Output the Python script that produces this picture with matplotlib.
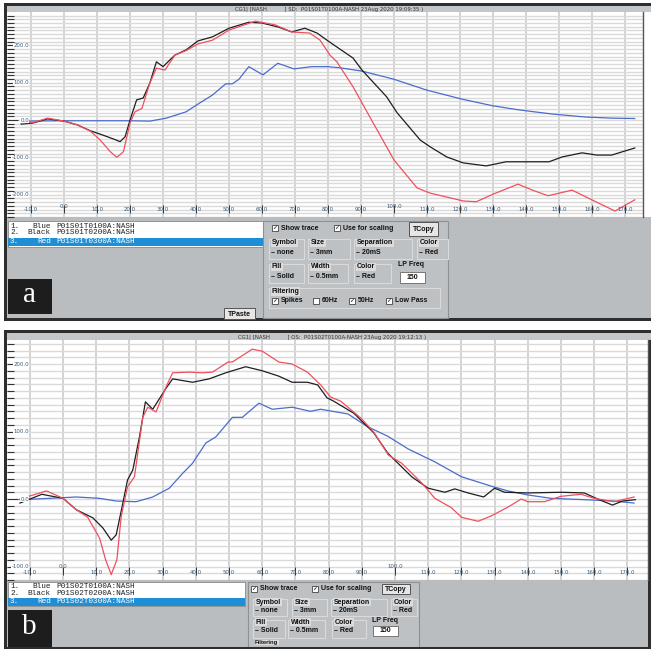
import matplotlib
matplotlib.use('Agg')
import matplotlib.pyplot as plt
from matplotlib.patches import Rectangle
from matplotlib import font_manager

# ---- trace data (x in ms, y in signal units) ----
a_blue_x = [-13, 0, 10, 20, 26, 31, 37, 41, 45, 49, 51, 53, 56, 60.3, 64.8, 69.7, 75, 80, 83.6, 90.3, 99.7, 110, 120.6, 130, 138, 148, 158, 166, 173]
a_blue_y = [-3, -2, -2, -2, -3, 5, 22, 45, 67, 97, 97, 109, 143, 121, 152, 137, 143, 143, 140, 131, 110, 80, 56, 38, 27, 16, 8, 5, 4]

a_black_x = [-13, -9.4, -5, 0, 4, 8, 11, 15, 17, 18.5, 20, 22, 24, 26, 28, 30, 33.6, 37, 40.6, 45, 50, 56, 60, 65, 69, 73, 76.7, 80, 87.6, 90.3, 97.8, 101, 108, 111, 116, 121, 128, 134, 140, 147, 151, 157, 161.5, 166, 173]
a_black_y = [-11, -8, 3, -3, -13, -29, -38, -51, -58, -45, 0, 54, 59, 99, 156, 143, 174, 188, 212, 223, 246, 262, 260, 249, 236, 246, 233, 212, 166, 134, 62, 19, -54, -72, -99, -115, -123, -112, -112, -112, -99, -88, -94, -94, -75]

a_red_x = [-13, -9, -5, 0, 4, 8, 11, 14, 16, 18, 20, 21.5, 23.6, 26, 28, 30.6, 33.6, 37, 40.6, 45, 50, 58, 64, 69, 74.5, 77.6, 80.6, 82.7, 87.6, 92.7, 100, 107, 111, 121, 125, 130, 137.6, 142, 146.7, 154, 160, 167, 173]
a_red_y = [-8, -6, 5, -3, -13, -30, -54, -85, -100, -85, -8, 22, 31, 99, 139, 134, 174, 186, 204, 214, 241, 265, 255, 236, 233, 214, 174, 156, 89, 8, -107, -182, -196, -217, -219, -199, -172, -188, -203, -188, -214, -244, -214]

b_blue_x = [-13, -4, 4, 11, 16, 22, 27, 32, 36, 39, 43, 46, 51, 54, 59, 63, 69, 74.5, 77.6, 85.8, 91.8, 97.8, 104, 112, 120, 129, 134, 140, 147, 157, 166, 172]
b_blue_y = [-1, 1, 3, 1, -3, -4, 3, 16, 38, 53, 83, 92, 121, 121, 142, 133, 136, 130, 133, 126, 107, 93, 74, 55, 33, 19, 12, 6, 1, -1, -3, -6]

b_black_x = [-13, -6.4, 0, 4, 9, 12, 14.5, 16, 18, 19.4, 21, 23, 24.8, 27, 31, 33, 39, 44, 49, 55, 60, 65, 69, 73.6, 76.7, 79.5, 81.5, 87.6, 93.6, 97.8, 105, 110, 115, 118, 122, 126.7, 130, 133, 140, 150, 157, 161.5, 165.5, 168.5, 172.4]
b_black_y = [-6, 7, 1, -16, -28, -43, -61, -53, -6, 28, 43, 92, 144, 133, 164, 178, 173, 178, 187, 196, 190, 182, 173, 173, 169, 150, 145, 127, 98, 68, 33, 16, 10, 15, 9, 3, 16, 10, 9, 10, 9, -1, -9, -3, -1]

b_red_x = [-13, -5, 0, 4, 7.4, 11, 12.8, 14.5, 16.2, 17.5, 19.4, 21.5, 24, 25.5, 28, 31, 33, 38, 42, 45, 49.7, 51, 57, 60, 65, 69, 73.6, 77.6, 80.6, 83.6, 89.7, 93.6, 98, 102, 108, 112, 117, 120, 125, 129, 134, 138, 140, 145, 150, 156, 160, 166, 172]
b_red_y = [0, 12, 1, -16, -27, -58, -90, -112, -90, -26, 18, 33, 121, 136, 129, 166, 187, 188, 187, 188, 203, 203, 222, 219, 203, 200, 188, 169, 151, 145, 120, 99, 65, 53, 24, 1, -13, -27, -33, -25, -12, 0, -4, -4, 4, 7, 1, -4, 3]

x_ticks = list(range(-10, 171, 10))
a_y_labels = [-200, -100, 0, 100, 200]
b_y_labels = [-100, 0, 100, 200]

a_title = 'CG1| [NASH          ] SD:  P01S01T0100A-NASH 23Aug 2020 19:09:35 )'
b_title = 'CG1| [NASH          ] OS:  P01S02T0100A-NASH 23Aug 2020 19:12:13 )'
a_names = ['P01S01T0100A:NASH', 'P01S01T0200A:NASH', 'P01S01T0300A:NASH']
b_names = ['P01S02T0100A:NASH', 'P01S02T0200A:NASH', 'P01S02T0300A:NASH']
trace_colors = ['Blue', 'Black', 'Red']

BLUE, BLACK, RED = '#4a6ccc', '#1e1e1e', '#f0505e'
DARK, TITLE, GRAY, PANEL = '#2e2e2e', '#c4c7ca', '#babdc0', '#bec1c4'

installed = {f.name for f in font_manager.fontManager.ttflist}
UI = 'Liberation Sans Narrow' if 'Liberation Sans Narrow' in installed else 'Liberation Sans'
UIS = 6.0 if UI == 'Liberation Sans Narrow' else 5.0

W, H = 651, 649
fig = plt.figure(figsize=(6.51, 6.49), dpi=100)
fig.patch.set_facecolor('white')

# background "screen" axes in pixel coordinates
bg = fig.add_axes([0, 0, 1, 1])
bg.set_xlim(0, W)
bg.set_ylim(H, 0)
bg.axis('off')


def frac(x0, y0, x1, y1):
    return [x0 / W, 1 - y1 / H, (x1 - x0) / W, (y1 - y0) / H]


def box(x0, y0, x1, y1, fc, ec='none', lw=0.8, z=1):
    bg.add_patch(Rectangle((x0, y0), x1 - x0, y1 - y0, fc=fc, ec=ec, lw=lw, zorder=z))


def label(x, y, s, size=UIS, ha='left', color='#111', z=5, **kw):
    bg.text(x, y, s, fontsize=size, ha=ha, va='center', color=color, family=UI,
            fontweight='bold', zorder=z, **kw)


def checkbox(x, y, s, checked=True):
    box(x - 3, y - 3, x + 3, y + 3, 'white', '#444', 0.6, z=4)
    if checked:
        bg.text(x, y, '\u2713', fontsize=4.5, ha='center', va='center', color='#111',
                family='DejaVu Sans', fontweight='bold', zorder=5)
    label(x + 6, y, s)


def button(x0, y0, x1, y1, s):
    box(x0, y0, x1, y1, '#e6e6e6', '#555', 0.7, z=4)
    label((x0 + x1) / 2, (y0 + y1) / 2 + 0.5, s, ha='center')


def group(x0, y0, x1, y1, name, value, ly, vy):
    box(x0, y0 + 2, x1, y1, 'none', '#dadada', 0.8, z=3)
    label(x0 + 3, ly, name, bbox=dict(fc='#dcdcdc', ec='none', pad=0.4))
    if value:
        label(x0 + 2, vy, '\u2013 ' + value)


def frame(y0, y1, title_y, title, title_x):
    box(4, y0, W, y1, DARK, z=0)
    box(7, y0 + 3, W, title_y, TITLE, z=1)
    bg.text(title_x, (y0 + 3 + title_y) / 2 + 0.3, title, fontsize=3.9, ha='center', va='center',
            color='#333', family='DejaVu Sans', zorder=2)


def legend(x0, y0, x1, y1, rows_y, names):
    box(x0, y0, x1, y1, 'white', '#888', 0.6, z=2)
    box(x0 + 0.5, rows_y[2] - 4, x1 - 0.5, rows_y[2] + 4, '#1e8fd6', z=3)
    for i, (cname, n, ry) in enumerate(zip(trace_colors, names, rows_y)):
        col = 'white' if i == 2 else '#222'
        bg.text(10, ry, f'{i + 1}.', fontsize=5.6, family='Liberation Mono', color=col,
                va='center', ha='left', zorder=4)
        bg.text(51, ry, cname, fontsize=5.6, family='Liberation Mono', color=col,
                va='center', ha='right', zorder=4)
        bg.text(56, ry, n, fontsize=5.6, family='Liberation Mono', color=col,
                va='center', ha='left', zorder=4)


def letter_box(x0, y0, x1, y1, s):
    box(x0, y0, x1, y1, '#1d1d1d', z=4)
    bg.text((x0 + x1) / 2, (y0 + y1) / 2 - 1, s, fontsize=21, family='Liberation Serif',
            color='white', ha='center', va='center', zorder=5)


def trace_panel(rect, xlim, ylim, series, ylabs, lab_y, tick_y, raise_y):
    ax = fig.add_axes(frac(*rect))
    ax.set_facecolor('white')
    ax.set_xlim(xlim)
    ax.set_xticks(x_ticks)
    ax.set_yticks(range(-300, 301, 100))
    ax.set_yticks(range(-300, 301, 10), minor=True)
    ax.set_ylim(ylim)
    ax.grid(axis='x', color='#c8c8c8', lw=1.1, zorder=0)
    ax.grid(axis='y', which='both', color='#dadada', lw=1.0, zorder=0)
    ax.tick_params(axis='x', length=0, labelbottom=False)
    ax.tick_params(axis='y', which='major', direction='in', length=8, width=0.8,
                   color='#333', labelleft=False)
    ax.tick_params(axis='y', which='minor', direction='in', length=5, width=0.8, color='#333')
    for s in ['top', 'bottom', 'left']:
        ax.spines[s].set_visible(False)
    ax.spines['right'].set_color('#555')
    ax.spines['right'].set_linewidth(1.0)

    for xs, ys, c in series:
        ax.plot(xs, ys, color=c, lw=0.9, zorder=3)

    xt = ax.get_xaxis_transform()
    ax.vlines(x_ticks, tick_y[0], tick_y[1], transform=xt, color='#333', lw=0.7, zorder=4)
    for v in x_ticks:
        yy = lab_y + (raise_y if v in (0, 100) else 0)
        ax.text(v, yy, f'{v:.1f}', transform=xt, ha='center', va='center', fontsize=3.9,
                color='#3a5a78', zorder=5)
    yt = ax.get_yaxis_transform()
    off = 22 / (rect[2] - rect[0])
    for v in ylabs:
        ax.text(off, v, f'{v:.1f}', transform=yt, ha='right', va='center', fontsize=3.9,
                color='#3a5a78', zorder=5,
                bbox=dict(fc='white', ec='none', pad=0.2))
    return ax


# ---------------- panel a ----------------
frame(3, 321, 12, a_title, 329)
box(7, 12, W, 217, 'white', z=1)
box(7, 217, W, 318, GRAY, z=1)
legend(7.5, 221, 263, 247, [226, 233, 241.5], a_names)
box(263, 221, 448, 318, PANEL, '#8e9194', 0.8, z=2)
checkbox(275, 228, 'Show trace')
checkbox(337, 228, 'Use for scaling')
button(409, 222, 438, 236, 'TCopy')
group(269, 237, 304, 259, 'Symbol', 'none', 243, 253)
group(308, 237, 350, 259, 'Size', '3mm', 243, 253)
group(354, 237, 412, 259, 'Separation', '20mS', 243, 253)
group(417, 237, 448, 259, 'Color', 'Red', 243, 253)
group(269, 262, 304, 283, 'Fill', 'Solid', 267, 277)
group(308, 262, 348, 283, 'Width', '0.5mm', 267, 277)
group(354, 262, 391, 283, 'Color', 'Red', 267, 277)
label(398, 265, 'LP Freq')
box(400, 272, 425, 282.5, 'white', '#666', 0.6, z=4)
label(412.5, 277.5, '150', ha='center')
group(269, 286, 440, 308, 'Filtering', None, 291.5, 0)
checkbox(275, 301, 'Spikes')
checkbox(316, 301, '60Hz', checked=False)
checkbox(352, 301, '50Hz')
checkbox(389, 301, 'Low Pass')
button(224, 308, 255, 319, 'TPaste')
letter_box(7.5, 279, 52, 314, 'a')

trace_panel((7, 12, 643, 217), (-17.3, 175.5), (-260, 289.5),
            [(a_blue_x, a_blue_y, BLUE), (a_black_x, a_black_y, BLACK), (a_red_x, a_red_y, RED)],
            a_y_labels, 0.038, (0.020, 0.058), 0.014)

# ---------------- panel b ----------------
frame(330, H, 340, b_title, 332)
box(7, 340, W - 3, 580, 'white', z=1)
box(7, 580, W - 3, 647, GRAY, z=1)
legend(7.5, 582, 245, 606, [586, 593.5, 601.5], b_names)
box(248, 582, 419, 652, PANEL, '#8e9194', 0.8, z=2)
checkbox(254, 589, 'Show trace')
checkbox(315, 589, 'Use for scaling')
button(382, 584, 410, 594, 'TCopy')
group(253, 597, 287, 616, 'Symbol', 'none', 602, 610)
group(292, 597, 327, 616, 'Size', '3mm', 602, 610)
group(331, 597, 387, 616, 'Separation', '20mS', 602, 610)
group(391, 597, 417, 616, 'Color', 'Red', 602, 610)
group(253, 618, 285, 638, 'Fill', 'Solid', 622, 631)
group(288, 618, 325, 638, 'Width', '0.5mm', 622, 631)
group(332, 618, 366, 638, 'Color', 'Red', 622, 631)
label(372, 621, 'LP Freq')
box(373, 626, 398, 636, 'white', '#666', 0.6, z=4)
label(385.5, 631, '150', ha='center')
label(255, 642.5, 'Filtering', size=UIS - 0.8, bbox=dict(fc='#dcdcdc', ec='none', pad=0.3))
letter_box(7.5, 610, 52, 647, 'b')
box(4, 647, W, H, DARK, z=8)

trace_panel((7, 340, 648, 580), (-16.9, 176.2), (-120, 235.6),
            [(b_blue_x, b_blue_y, BLUE), (b_black_x, b_black_y, BLACK), (b_red_x, b_red_y, RED)],
            b_y_labels, 0.033, (0.020, 0.054), 0.022)

fig.savefig('out.png', dpi=100)
